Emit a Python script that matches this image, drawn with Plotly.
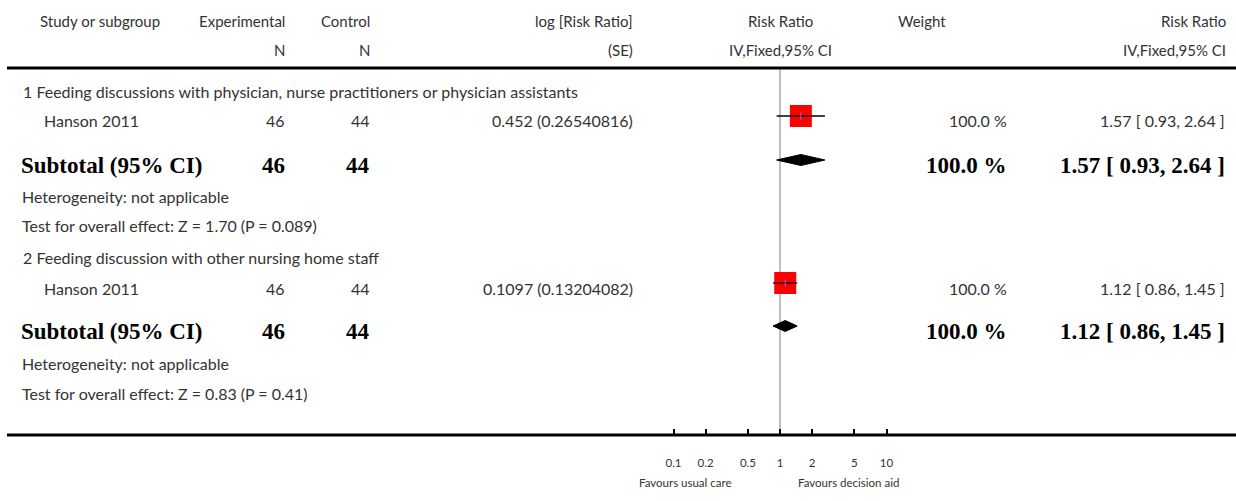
import plotly.graph_objects as go

# ---------------- data ----------------
subgroups = [
    "1 Feeding discussions with physician, nurse practitioners or physician assistants",
    "2 Feeding discussion with other nursing home staff",
]
studies = ["Hanson 2011", "Hanson 2011"]
exp_n = [46, 46]
ctrl_n = [44, 44]
log_rr = ["0.452", "0.1097"]
log_se = ["0.26540816", "0.13204082"]
rr = [1.57, 1.12]
rr_lo = [0.93, 0.86]
rr_hi = [2.64, 1.45]
weights = [100.0, 100.0]
sub_rr = [1.57, 1.12]
sub_lo = [0.93, 0.86]
sub_hi = [2.64, 1.45]
heterogeneity = ["not applicable", "not applicable"]
z_vals = ["1.70", "0.83"]
p_vals = ["0.089", "0.41"]
tick_vals = [0.1, 0.2, 0.5, 1, 2, 5, 10]
tick_text = ["0.1", "0.2", "0.5", "1", "2", "5", "10"]
favours_left = "Favours usual care"
favours_right = "Favours decision aid"

# ---------------- layout geometry (pixels) ----------------
W, H = 1236, 501
TOP_RULE, BOTTOM_RULE = 68, 435
X_ONE, PX_PER_DECADE = 780, 106.5
ROWS = [  # text rows: subgroup title, study, subtotal, heterogeneity, test
    dict(title=91, study=121, sub=165, het=197, test=226),
    dict(title=257, study=288, sub=331, het=363, test=393),
]
MARK_SHIFT = -5          # marks sit slightly above the text centre
HDR1, HDR2 = 21, 50
X_EXP, X_CTRL, X_LOG, X_W, X_RR = 287, 372, 635, 1009, 1227

def px(x):
    return x / W

def py(y):
    return 1 - y / H

HDR = dict(family="Lato, 'Open Sans', sans-serif", size=15, color="#333333")
REG = dict(family="Lato, 'Open Sans', sans-serif", size=16, color="#333333")
BOLD = dict(family="'Liberation Serif', 'Times New Roman', serif", size=23, color="#000000")
SMALL = dict(family="Lato, 'Open Sans', sans-serif", size=11.5, color="#333333")

fig = go.Figure()

# reference line at RR = 1
fig.add_trace(go.Scatter(x=[1, 1], y=[TOP_RULE, BOTTOM_RULE], mode="lines",
                         line=dict(color="#aaaaaa", width=1.5), hoverinfo="skip"))

# study squares
study_y = [r["study"] + MARK_SHIFT for r in ROWS]
fig.add_trace(go.Scatter(
    x=rr, y=study_y, mode="markers",
    marker=dict(symbol="square", size=[22 * w / 100 for w in weights], color="#ff0000",
                opacity=1, line=dict(width=0)),
    hoverinfo="skip"))

# CI lines
ci_x, ci_y = [], []
for lo, hi, y in zip(rr_lo, rr_hi, study_y):
    ci_x += [lo, hi, None]
    ci_y += [y, y, None]
fig.add_trace(go.Scatter(x=ci_x, y=ci_y, mode="lines",
                         line=dict(color="#000000", width=1.3), hoverinfo="skip"))
fig.add_trace(go.Scatter(x=rr, y=study_y, mode="markers",
                         marker=dict(symbol="line-ns-open", size=5, opacity=1,
                                     line=dict(color="#000000", width=1)),
                         hoverinfo="skip"))

# diamonds
for est, lo, hi, r in zip(sub_rr, sub_lo, sub_hi, ROWS):
    y = r["sub"] + MARK_SHIFT
    fig.add_trace(go.Scatter(
        x=[lo, est, hi, est, lo], y=[y, y - 5.5, y, y + 5.5, y],
        mode="lines", fill="toself", fillcolor="#000000",
        line=dict(color="#000000", width=1), hoverinfo="skip"))

shapes = [
    dict(type="line", xref="paper", yref="paper", x0=px(7), x1=1,
         y0=py(TOP_RULE), y1=py(TOP_RULE), line=dict(color="#000000", width=3)),
    dict(type="line", xref="paper", yref="paper", x0=px(7), x1=1,
         y0=py(BOTTOM_RULE), y1=py(BOTTOM_RULE), line=dict(color="#000000", width=3)),
]

ann = []

def txt(text, x, y, anchor="left", font=REG):
    ann.append(dict(text=text, x=px(x), y=py(y), xref="paper", yref="paper",
                    xanchor=anchor, yanchor="middle", showarrow=False, font=font))

# header
txt("Study or subgroup", 38, HDR1, "left", HDR)
txt("Experimental", X_EXP, HDR1, "right", HDR)
txt("N", X_EXP, HDR2, "right", HDR)
txt("Control", X_CTRL, HDR1, "right", HDR)
txt("N", X_CTRL, HDR2, "right", HDR)
txt("log [Risk Ratio]", X_LOG, HDR1, "right", HDR)
txt("(SE)", X_LOG, HDR2, "right", HDR)
txt("Risk Ratio", 780, HDR1, "center", HDR)
txt("IV,Fixed,95% CI", 780, HDR2, "center", HDR)
txt("Weight", 922, HDR1, "center", HDR)
txt("Risk Ratio", X_RR + 1, HDR1, "right", HDR)
txt("IV,Fixed,95% CI", X_RR + 1, HDR2, "right", HDR)

for i, r in enumerate(ROWS):
    txt(subgroups[i], 21, r["title"])
    txt(studies[i], 42, r["study"])
    txt(str(exp_n[i]), X_EXP, r["study"], "right")
    txt(str(ctrl_n[i]), X_CTRL, r["study"], "right")
    txt(f"{log_rr[i]} ({log_se[i]})", X_LOG, r["study"], "right")
    txt(f"{weights[i]:.1f} %", X_W, r["study"], "right")
    txt(f"{rr[i]:.2f} [ {rr_lo[i]:.2f}, {rr_hi[i]:.2f} ]", X_RR, r["study"], "right")
    txt("<b>Subtotal (95% CI)</b>", 19, r["sub"], "left", BOLD)
    txt(f"<b>{exp_n[i]}</b>", X_EXP, r["sub"], "right", BOLD)
    txt(f"<b>{ctrl_n[i]}</b>", X_CTRL, r["sub"], "right", BOLD)
    txt(f"<b>{weights[i]:.1f} %</b>", X_W, r["sub"], "right", BOLD)
    txt(f"<b>{sub_rr[i]:.2f} [ {sub_lo[i]:.2f}, {sub_hi[i]:.2f} ]</b>", X_RR, r["sub"], "right", BOLD)
    txt(f"Heterogeneity: {heterogeneity[i]}", 20, r["het"])
    txt(f"Test for overall effect: Z = {z_vals[i]} (P = {p_vals[i]})", 20, r["test"])

txt(favours_left, 733, 482, "right", SMALL)
txt(favours_right, 796, 482, "left", SMALL)

fig.update_layout(
    width=W, height=H, margin=dict(l=0, r=0, t=0, b=0),
    paper_bgcolor="white", plot_bgcolor="white", showlegend=False,
    shapes=shapes, annotations=ann,
    xaxis=dict(type="log", domain=[0, 1],
               range=[(0 - X_ONE) / PX_PER_DECADE, (W - X_ONE) / PX_PER_DECADE],
               tickvals=tick_vals, ticktext=tick_text, ticks="inside", ticklen=6,
               tickwidth=2, tickcolor="#000000", showgrid=False, zeroline=False,
               showline=False, tickfont=SMALL, ticklabelstandoff=19, fixedrange=True),
    yaxis=dict(domain=[py(BOTTOM_RULE), py(TOP_RULE)], range=[BOTTOM_RULE, TOP_RULE],
               visible=False, fixedrange=True),
)

fig.write_html("out.html", config={"displayModeBar": False},
               post_script="document.body.style.margin='0';document.body.style.overflow='hidden';")
